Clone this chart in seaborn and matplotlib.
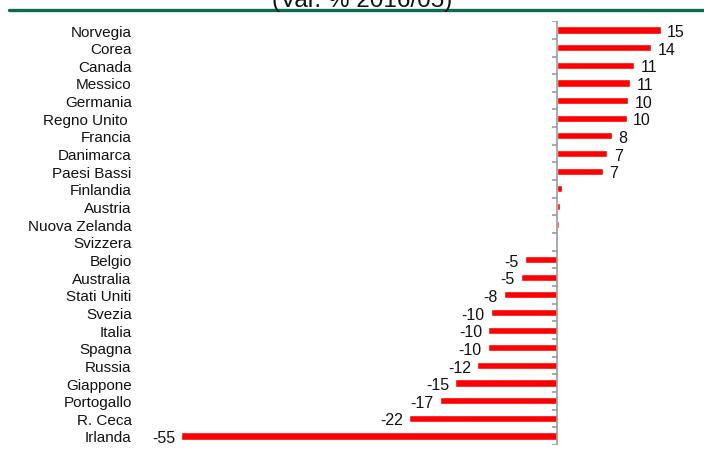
import matplotlib
matplotlib.use("Agg")
import matplotlib.pyplot as plt
from matplotlib import font_manager
import seaborn as sns
import pandas as pd

countries = ["Norvegia", "Corea", "Canada", "Messico", "Germania", "Regno Unito ",
             "Francia", "Danimarca", "Paesi Bassi", "Finlandia", "Austria",
             "Nuova Zelanda", "Svizzera", "Belgio", "Australia", "Stati Uniti",
             "Svezia", "Italia", "Spagna", "Russia", "Giappone", "Portogallo",
             "R. Ceca", "Irlanda"]
change = [15.2, 13.8, 11.3, 10.7, 10.4, 10.2, 8.0, 7.4, 6.8, 0.7, 0.5, 0.4, 0.2,
          -4.7, -5.2, -7.7, -9.6, -10.0, -10.1, -11.6, -14.8, -17.1, -21.5, -54.8]
labelled = [True] * 9 + [False] * 4 + [True] * 11
title = "(Var. % 2016/05)"

df = pd.DataFrame({"paese": countries, "var": change})

sns.set_theme(style="white")
names = {f.name for f in font_manager.fontManager.ttflist}
family = ["Liberation Sans Narrow"] if "Liberation Sans Narrow" in names else ["Liberation Sans"]
plt.rcParams["font.family"] = family + ["DejaVu Sans"]

fig = plt.figure(figsize=(7.04, 4.52), dpi=100)
W, H = 704, 452
ax = fig.add_axes([140 / W, (452 - 445.8) / H, 560 / W, 423.6 / H])

sns.barplot(data=df, x="var", y="paese", orient="h", color="#FF0000",
            saturation=1, width=0.4, ax=ax)

ax.set_xlim(-60.8, 20.9)
ax.set_ylim(len(countries) - 0.5, -0.5)
ax.set_xlabel("")
ax.set_ylabel("")
ax.set_xticks([])
for s in ax.spines.values():
    s.set_visible(False)
ax.tick_params(axis="y", length=0, pad=6, labelsize=11, labelcolor="#111111")

# zero line with small marks between categories
axis_col = "#9a9a9a"
ax.axvline(0, color=axis_col, lw=1.2, zorder=3)
bounds = [i - 0.5 for i in range(len(countries) + 1)]
ax.hlines(bounds, -0.75, 0, color=axis_col, lw=1.2, zorder=3)

# value labels beside each bar end
cont = ax.containers[0]
texts = [f"{v:.0f}" if show else "" for v, show in zip(change, labelled)]
for t in ax.bar_label(cont, labels=texts, padding=4.5, fontsize=11.5, color="#111111"):
    x, y = t.xyann
    t.xyann = (x, y - 1.2)

# header rule and cut-off title
fig.add_artist(plt.Line2D([9 / W, 1], [1 - 10.5 / H] * 2, color="#0B6B4F", lw=2.4))
fig.text(362 / W, 1 - 6.5 / H, title, ha="center", va="baseline", fontsize=17.5,
         color="#111111")

fig.savefig("out.png", dpi=100)
